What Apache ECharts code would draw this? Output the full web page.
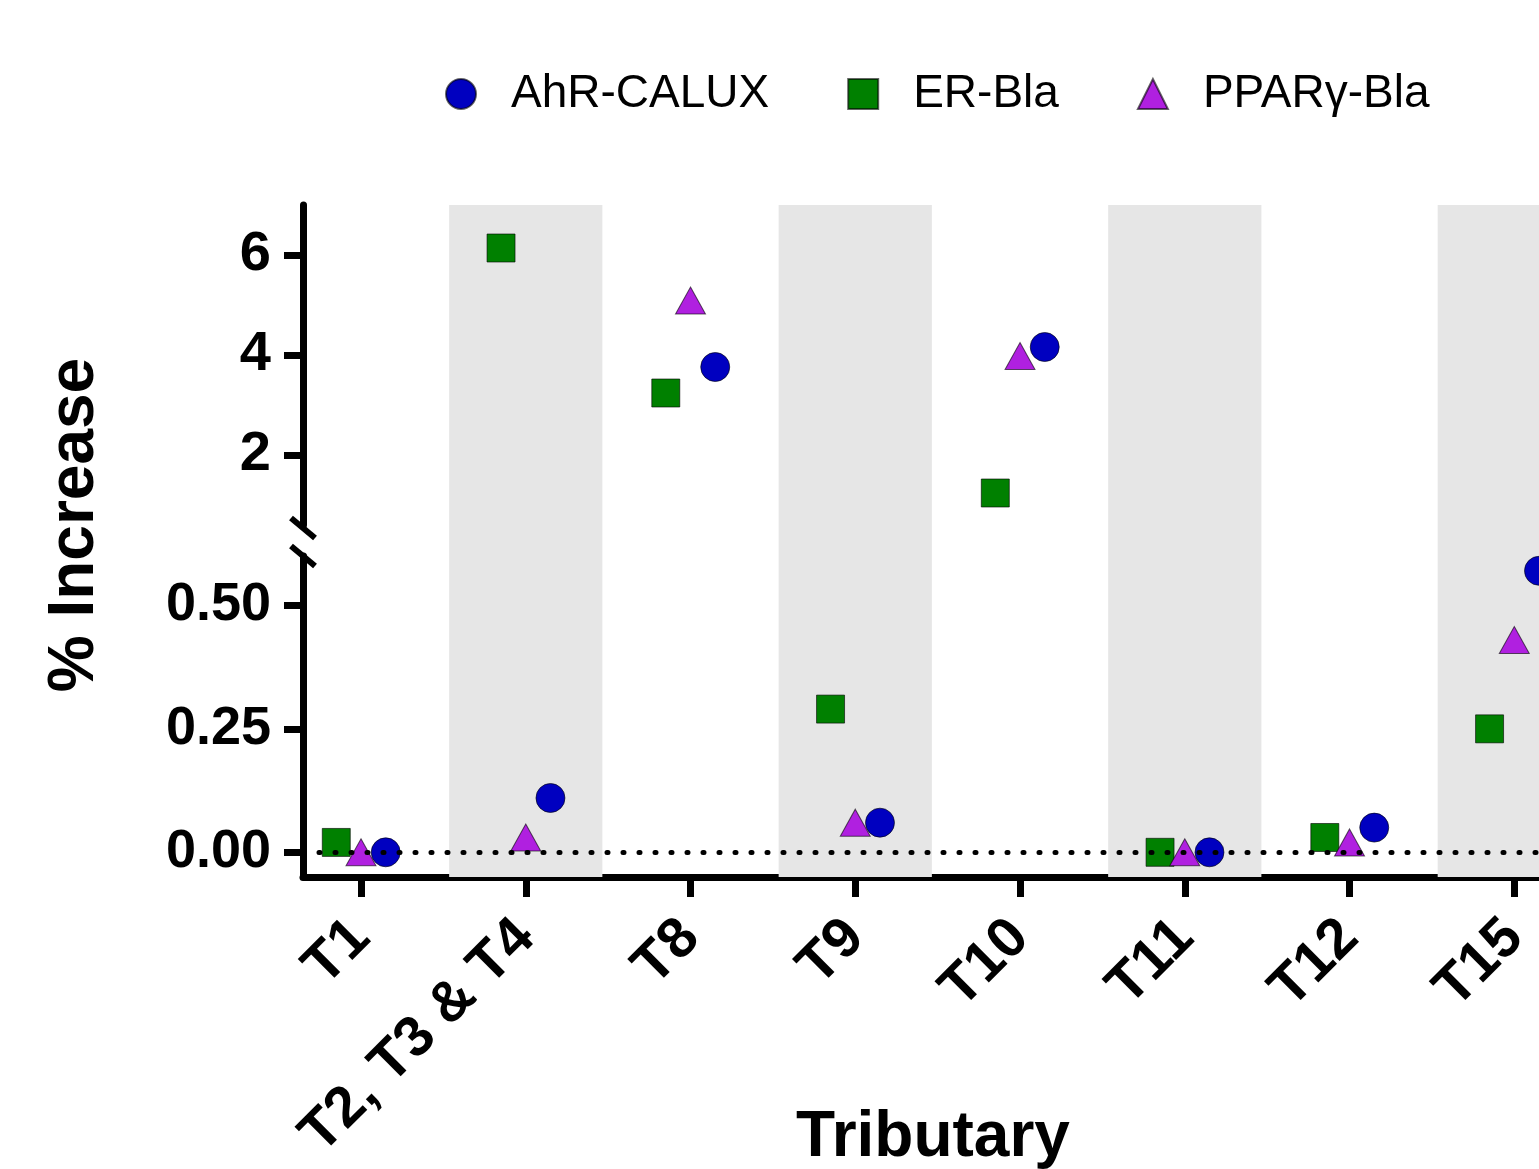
<!DOCTYPE html>
<html>
<head>
<meta charset="utf-8">
<script src="https://cdn.jsdelivr.net/npm/echarts@6/dist/echarts.min.js"></script>
<style>
  html, body { margin: 0; padding: 0; background: #fff; }
  #chart { width: 1539px; height: 1169px; }
</style>
</head>
<body>
<div id="chart"></div>
<script>
// tributaries on the x axis
const categories = ['T1', 'T2, T3 & T4', 'T8', 'T9', 'T10', 'T11', 'T12', 'T15']
// % increase per assay
const ahrCalux = [0, 0.11, 3.76, 0.06, 4.16, 0, 0.05, 0.57]
const erBla = [0.02, 6.14, 3.24, 0.29, 1.24, 0, 0.03, 0.25]
const pparBla = [0, 0.03, 5.09, 0.06, 3.98, 0, 0.02, 0.43]
// tick labels of the two y segments
const upperTicks = [2, 4, 6]
const lowerTicks = [0, 0.25, 0.5]
// y axis break: lower segment ends, upper segment starts
const breakValue = 0.6

const font = "'Liberation Sans', Arial, sans-serif"
const xMin = -0.352
const xMax = 7.15

const assays = [
  { name: 'AhR-CALUX', values: ahrCalux, offset: 0.15, symbol: 'circle', size: 29, color: '#0000c0' },
  { name: 'ER-Bla', values: erBla, offset: -0.15, symbol: 'rect', size: 28, color: '#008000' },
  { name: 'PPARγ-Bla', values: pparBla, offset: 0, symbol: 'triangle', size: [30, 27], color: '#b020e0' }
]

const axisLine = { show: true, onZero: false, lineStyle: { color: '#000', width: 7 } }
const axisTick = { show: true, inside: false, length: 19, lineStyle: { color: '#000', width: 7 } }

function points (values, offset, upper) {
  return values
    .map((v, i) => [i + offset, v])
    .filter(p => upper ? p[1] >= breakValue : p[1] < breakValue)
}

// grey bands behind every second tributary
const bands = categories
  .map((c, i) => i)
  .filter(i => i % 2 === 1)
  .map(i => [{ xAxis: i - 0.465 }, { xAxis: i + 0.465 }])

const series = [
  {
    type: 'scatter',
    xAxisIndex: 0,
    yAxisIndex: 0,
    data: [],
    silent: true,
    z: 0,
    markArea: {
      silent: true,
      itemStyle: { color: '#e6e6e6' },
      label: { show: false },
      data: bands
    }
  },
  {
    // dotted zero line
    type: 'scatter',
    xAxisIndex: 2,
    yAxisIndex: 2,
    data: [],
    z: 1,
    markLine: {
      silent: true,
      symbol: ['none', 'none'],
      label: { show: false },
      lineStyle: { color: '#000', width: 5, type: [1, 15], cap: 'round' },
      data: [{ yAxis: 0 }]
    }
  }
]

assays.forEach(a => {
  [true, false].forEach(upper => {
    series.push({
      name: a.name,
      type: 'scatter',
      xAxisIndex: upper ? 1 : 2,
      yAxisIndex: upper ? 1 : 2,
      symbol: a.symbol,
      symbolSize: a.size,
      z: 3,
      itemStyle: { color: a.color, borderColor: 'rgba(0,0,0,0.6)', borderWidth: 1, opacity: 1 },
      data: points(a.values, a.offset, upper)
    })
  })
})

const chart = echarts.init(document.getElementById('chart'))
const option = {
  animation: false,
  backgroundColor: '#fff',
  legend: {
    left: 440,
    top: 66,
    itemWidth: 30,
    itemHeight: 30,
    itemGap: 78,
    data: assays.map(a => a.name),
    textStyle: { fontFamily: font, fontSize: 46, color: '#000', padding: [0, 0, 0, 30] }
  },
  grid: [
    { left: 303, right: 0, top: 205, bottom: 292, outerBoundsMode: 'none' },
    { left: 303, right: 0, top: 205, height: 320, outerBoundsMode: 'none' },
    { left: 303, right: 0, top: 556, bottom: 292, outerBoundsMode: 'none' }
  ],
  xAxis: [
    { gridIndex: 0, type: 'value', min: xMin, max: xMax, show: false },
    { gridIndex: 1, type: 'value', min: xMin, max: xMax, show: false },
    {
      gridIndex: 2,
      type: 'value',
      min: xMin,
      max: xMax,
      axisLine: axisLine,
      axisTick: Object.assign({}, axisTick, { length: 20, customValues: categories.map((c, i) => i) }),
      axisLabel: {
        customValues: categories.map((c, i) => i),
        formatter: v => categories[Math.round(v)],
        rotate: 45,
        margin: 52,
        fontFamily: font,
        fontSize: 57,
        fontWeight: 'bold',
        color: '#000'
      },
      splitLine: { show: false }
    }
  ],
  yAxis: [
    { gridIndex: 0, type: 'value', min: 0, max: 1, show: false },
    {
      gridIndex: 1,
      type: 'value',
      min: breakValue,
      max: 7,
      axisLine: axisLine,
      axisTick: Object.assign({}, axisTick, { customValues: upperTicks }),
      axisLabel: {
        customValues: upperTicks,
        formatter: v => String(v),
        margin: 32,
        fontFamily: font,
        fontSize: 56,
        fontWeight: 'bold',
        color: '#000'
      },
      splitLine: { show: false }
    },
    {
      gridIndex: 2,
      type: 'value',
      min: -0.05,
      max: breakValue,
      axisLine: axisLine,
      axisTick: Object.assign({}, axisTick, { customValues: lowerTicks }),
      axisLabel: {
        customValues: lowerTicks,
        formatter: v => v.toFixed(2),
        margin: 32,
        fontFamily: font,
        fontSize: 54,
        fontWeight: 'bold',
        color: '#000'
      },
      splitLine: { show: false }
    }
  ],
  series: series
}
chart.setOption(option)

// axis break slashes and axis titles
const axisX = chart.convertToPixel({ xAxisIndex: 2 }, xMin)
const upperEnd = chart.convertToPixel({ yAxisIndex: 1 }, breakValue)
const lowerEnd = chart.convertToPixel({ yAxisIndex: 2 }, breakValue)
const slash = cy => ({
  type: 'line',
  shape: { x1: axisX - 12, y1: cy - 10, x2: axisX + 12, y2: cy + 10 },
  style: { stroke: '#000', lineWidth: 6 },
  z: 10
})
chart.setOption({
  graphic: [
    slash(upperEnd + 3),
    slash(lowerEnd),
    {
      type: 'text',
      x: 75,
      y: 525,
      rotation: Math.PI / 2,
      style: {
        text: '% Increase',
        font: 'bold 64px ' + font,
        fill: '#000',
        textAlign: 'center',
        textVerticalAlign: 'middle'
      }
    },
    {
      type: 'text',
      x: 933,
      y: 1138,
      style: {
        text: 'Tributary',
        font: 'bold 64px ' + font,
        fill: '#000',
        textAlign: 'center',
        textVerticalAlign: 'middle'
      }
    }
  ]
})
</script>
</body>
</html>
